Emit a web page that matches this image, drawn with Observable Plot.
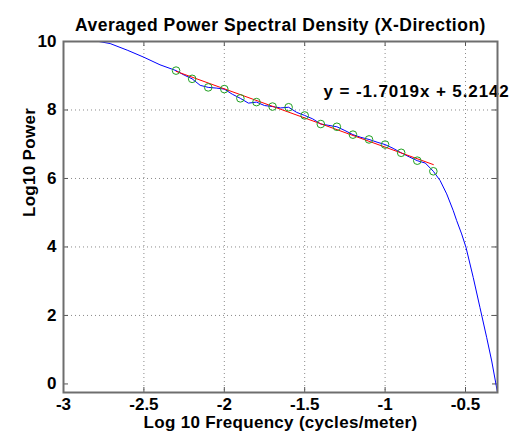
<!DOCTYPE html>
<html><head><meta charset="utf-8">
<script src="https://cdn.jsdelivr.net/npm/d3@7"></script>
<script src="https://cdn.jsdelivr.net/npm/@observablehq/plot@0.6"></script>
<style>body{margin:0;background:#fff}</style>
</head><body><div id="chart"></div>
<script>
const curveX = [-2.78,-2.71,-2.60,-2.50,-2.40,-2.30,-2.25,-2.20,-2.15,-2.10,-2.05,-2.00,-1.95,-1.90,-1.85,-1.80,-1.75,-1.70,-1.65,-1.60,-1.55,-1.50,-1.45,-1.40,-1.35,-1.30,-1.25,-1.20,-1.15,-1.10,-1.05,-1.00,-0.95,-0.90,-0.85,-0.80,-0.75,-0.70,-0.658,-0.617,-0.576,-0.555,-0.524,-0.497,-0.452,-0.410,-0.368,-0.337,-0.301];
const curveY = [10.0,9.94,9.74,9.54,9.32,9.15,9.02,8.91,8.72,8.66,8.64,8.61,8.46,8.34,8.20,8.23,8.13,8.10,8.06,8.08,7.93,7.84,7.74,7.59,7.55,7.51,7.40,7.28,7.20,7.14,7.06,6.99,6.88,6.75,6.63,6.52,6.45,6.21,5.94,5.55,5.06,4.77,4.38,3.99,3.11,2.23,1.35,0.67,-0.25];
const sampleX = [-2.3,-2.2,-2.1,-2.0,-1.9,-1.8,-1.7,-1.6,-1.5,-1.4,-1.3,-1.2,-1.1,-1.0,-0.9,-0.8,-0.7];
const sampleY = [9.15,8.91,8.66,8.61,8.34,8.23,8.10,8.08,7.84,7.59,7.51,7.28,7.14,6.99,6.75,6.52,6.21];
const slope = -1.7019, intercept = 5.2142;
const fitRange = [-2.3, -0.7];
const xTicks = [-3,-2.5,-2,-1.5,-1,-0.5];
const yTicks = [0,2,4,6,8,10];
const titleText = "Averaged Power Spectral Density (X-Direction)";
const xLabel = "Log 10 Frequency (cycles/meter)";
const yLabel = "Log10 Power";
const eqText = "y = -1.7019x + 5.2142";
const eqPos = {x: -1.383, y: 8.54};

const curve = curveX.map((x,i)=>({x, y: curveY[i]}));
const samples = sampleX.map((x,i)=>({x, y: sampleY[i]}));
const fit = fitRange.map(x=>({x, y: slope*x + intercept}));

const W=512,H=440,ML=63,MR=15,MT=41,MB=48;
const fw=W-ML-MR, fh=H-MT-MB;
const font = "'Liberation Sans', Arial, Helvetica, sans-serif";
const fmt = d => String(d);

const chart = Plot.plot({
  width: W, height: H,
  marginLeft: ML, marginRight: MR, marginTop: MT, marginBottom: MB,
  style: {fontFamily: font, background: "#fff"},
  x: {domain: [-3, -0.301], ticks: xTicks},
  y: {domain: [-0.25, 10], ticks: yTicks},
  marks: [
    Plot.gridX(xTicks.slice(1), {stroke: "#8a8a8a", strokeOpacity: 1, strokeDasharray: "1,3"}),
    Plot.gridY(yTicks.slice(1,5), {stroke: "#8a8a8a", strokeOpacity: 1, strokeDasharray: "1,3"}),
    Plot.tickX(xTicks, {x: d=>d, insetTop: fh-5, stroke: "#555"}),
    Plot.tickX(xTicks, {x: d=>d, insetBottom: fh-5, stroke: "#555"}),
    Plot.tickY(yTicks, {y: d=>d, insetRight: fw-5, stroke: "#555"}),
    Plot.tickY(yTicks, {y: d=>d, insetLeft: fw-5, stroke: "#555"}),
    Plot.axisX(xTicks, {tickSize: 0, tickPadding: 5, tickFormat: fmt, fontSize: 17, fontWeight: "bold", fill: "#000", label: null}),
    Plot.axisY(yTicks, {tickSize: 0, tickPadding: 7, tickFormat: fmt, fontSize: 17, fontWeight: "bold", fill: "#000", label: null}),
    Plot.line(curve, {x: "x", y: "y", stroke: "#0000ff", strokeWidth: 1, clip: true}),
    Plot.line(fit, {x: "x", y: "y", stroke: "#ff0000", strokeWidth: 1}),
    Plot.dot(samples, {x: "x", y: "y", r: 3.8, stroke: "#22a022", strokeWidth: 1, fill: "none"}),
    Plot.text([eqText], {x: eqPos.x, y: eqPos.y, text: d=>d, textAnchor: "start", fontSize: 17, fontWeight: "bold", fill: "#000"}),
    Plot.text([titleText], {frameAnchor: "top", dy: -23, text: d=>d, fontSize: 17.5, fontWeight: "bold", fill: "#000"}),
    Plot.text([xLabel], {frameAnchor: "bottom", dy: 35, text: d=>d, fontSize: 17, fontWeight: "bold", fill: "#000"}),
    Plot.text([yLabel], {frameAnchor: "left", dx: -34, rotate: -90, text: d=>d, fontSize: 17, fontWeight: "bold", fill: "#000"}),
    Plot.frame({stroke: "#6e6e6e", strokeWidth: 2})
  ]
});
const spacing = {[eqText]: "0.9px", [titleText]: "0.5px", [xLabel]: "0.3px", [yLabel]: "0.3px"};
d3.select(chart).selectAll("text").each(function(){
  const t = this.textContent;
  if (spacing[t]) this.setAttribute("letter-spacing", spacing[t]);
});
document.getElementById("chart").appendChild(chart);
</script>
</body></html>
